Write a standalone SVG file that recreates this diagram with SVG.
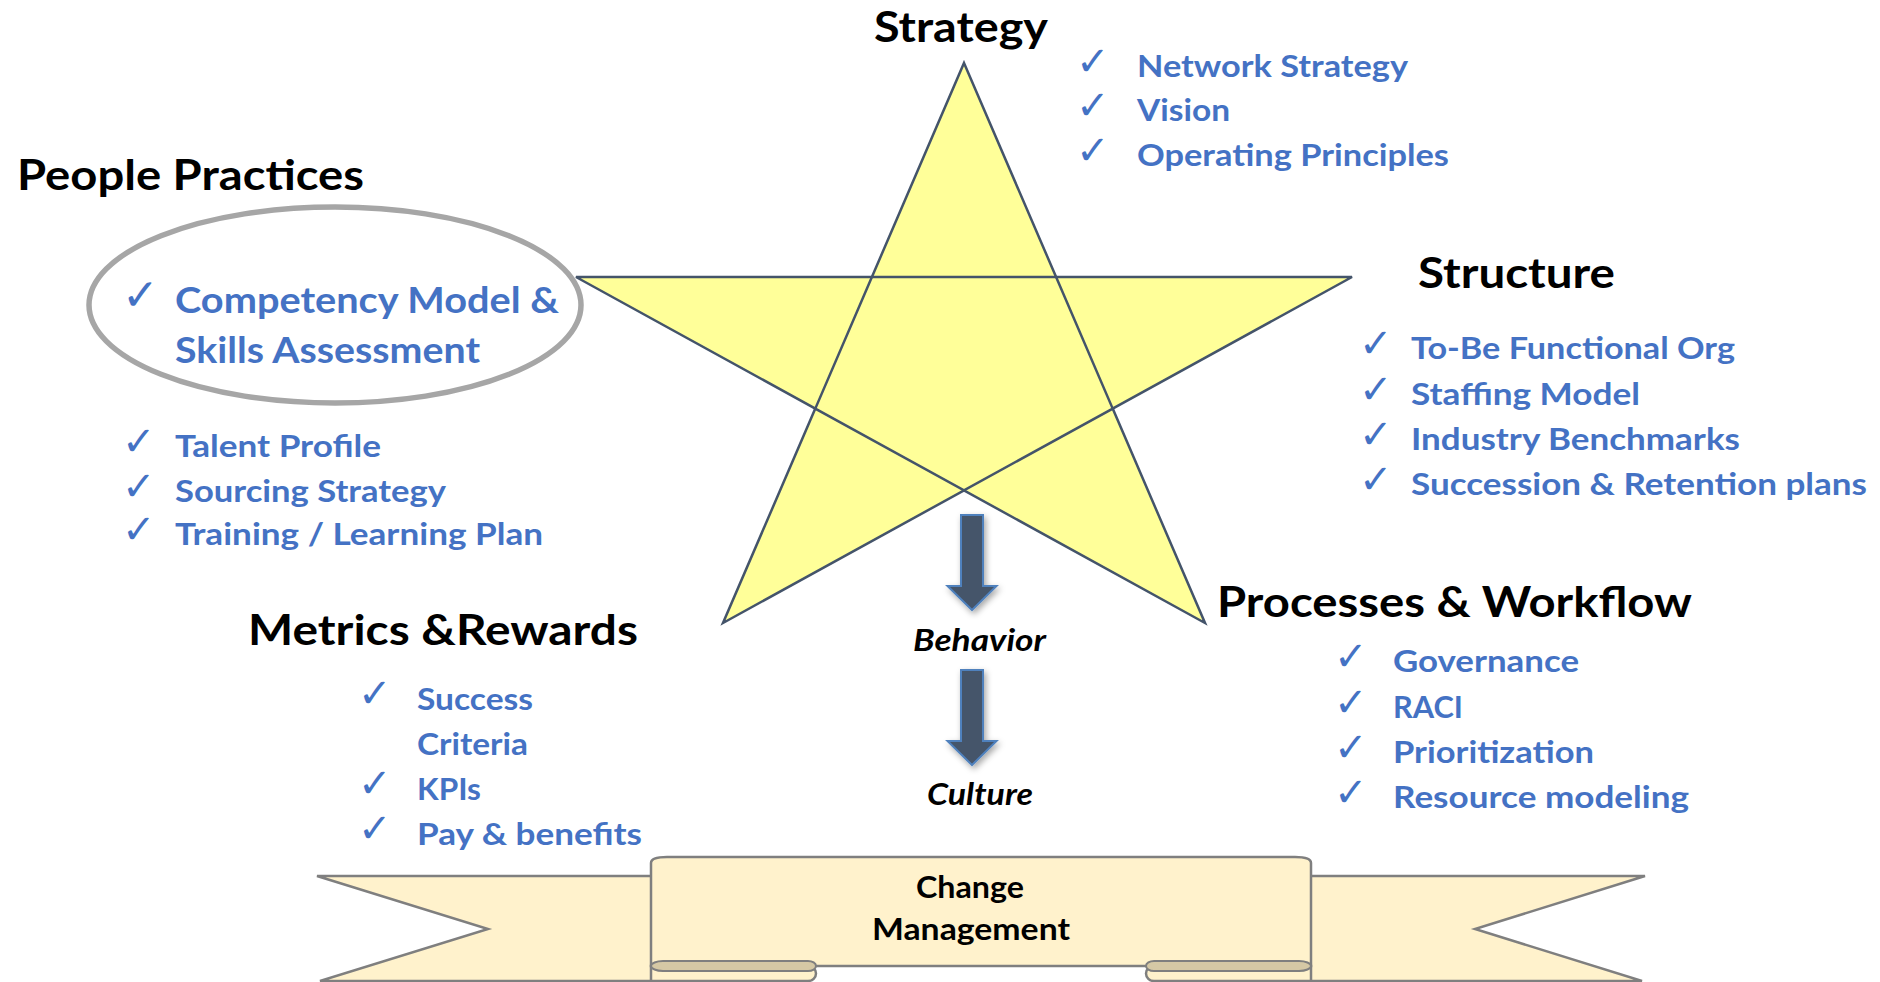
<svg xmlns="http://www.w3.org/2000/svg" width="1880" height="982" viewBox="0 0 1880 982">
<style>
.h{font-family:Lato,"Liberation Sans",sans-serif;font-weight:700;font-size:42px;fill:#000}
.it{font-family:Lato,"Liberation Sans",sans-serif;font-weight:700;font-size:30px;fill:#4472C4}
.big{font-size:37px}
.ck{font-family:"DejaVu Sans",sans-serif;font-weight:700;font-size:40px;fill:#4472C4}
.bi{font-family:Lato,"Liberation Sans",sans-serif;font-weight:700;font-style:italic;font-size:30px;fill:#000;text-anchor:middle}
.rt{font-family:Lato,"Liberation Sans",sans-serif;font-weight:700;font-size:30px;fill:#000;text-anchor:middle}
.rib{fill:#FFF2CC;stroke:#7F7F7F;stroke-width:2.5;stroke-linejoin:miter}
.curl{fill:#D5C8A5;stroke:#7F7F7F;stroke-width:2}
.arrow{fill:#44546A;stroke:#4F81BD;stroke-width:2;filter:url(#sh)}
</style>
<defs>
<filter id="sh" x="-50%" y="-20%" width="200%" height="150%">
<feDropShadow dx="2" dy="3" stdDeviation="3" flood-color="#000" flood-opacity="0.35"/>
</filter>
</defs>
<rect width="1880" height="982" fill="#fff"/>

<g id="star">
<polygon points="964,63 1056.1,277 1352,277 1112.7,408.6 1205,623 964,490.4 723,623 815.3,408.6 576,277 871.9,277" fill="#FFFF99" stroke="#44546A" stroke-width="2.5"/>
<polygon points="871.9,277 1056.1,277 1112.7,408.6 964,490.4 815.3,408.6" fill="none" stroke="#44546A" stroke-width="2.5"/>
</g>

<g id="strategy">
<text class="h" x="874" y="42" textLength="174" lengthAdjust="spacingAndGlyphs">Strategy</text>
<text class="ck" x="1076" y="75">✓</text>
<text class="it" x="1137" y="77" textLength="271" lengthAdjust="spacingAndGlyphs">Network Strategy</text>
<text class="ck" x="1076" y="119">✓</text>
<text class="it" x="1137" y="121" textLength="93" lengthAdjust="spacingAndGlyphs">Vision</text>
<text class="ck" x="1076" y="164">✓</text>
<text class="it" x="1137" y="166" textLength="312" lengthAdjust="spacingAndGlyphs">Operating Principles</text>
</g>

<g id="people-practices">
<text class="h" x="17" y="190" textLength="347" lengthAdjust="spacingAndGlyphs">People Practices</text>
<ellipse cx="335" cy="305" rx="246" ry="98" fill="none" stroke="#A6A6A6" stroke-width="5.5"/>
<text class="ck" x="122" y="310" style="font-size:44px">✓</text>
<text class="it big" x="175" y="313" textLength="384" lengthAdjust="spacingAndGlyphs">Competency Model &amp;</text>
<text class="it big" x="175" y="363" textLength="305" lengthAdjust="spacingAndGlyphs">Skills Assessment</text>
<text class="ck" x="122" y="455">✓</text>
<text class="it" x="175" y="457" textLength="206" lengthAdjust="spacingAndGlyphs">Talent Profile</text>
<text class="ck" x="122" y="500">✓</text>
<text class="it" x="175" y="502" textLength="271" lengthAdjust="spacingAndGlyphs">Sourcing Strategy</text>
<text class="ck" x="122" y="543">✓</text>
<text class="it" x="175" y="545" textLength="368" lengthAdjust="spacingAndGlyphs">Training / Learning Plan</text>
</g>

<g id="structure">
<text class="h" x="1418" y="288" textLength="197" lengthAdjust="spacingAndGlyphs">Structure</text>
<text class="ck" x="1359" y="357">✓</text>
<text class="it" x="1411" y="359" textLength="324" lengthAdjust="spacingAndGlyphs">To-Be Functional Org</text>
<text class="ck" x="1359" y="403">✓</text>
<text class="it" x="1411" y="405" textLength="229" lengthAdjust="spacingAndGlyphs">Staffing Model</text>
<text class="ck" x="1359" y="448">✓</text>
<text class="it" x="1411" y="450" textLength="329" lengthAdjust="spacingAndGlyphs">Industry Benchmarks</text>
<text class="ck" x="1359" y="493">✓</text>
<text class="it" x="1411" y="495" textLength="456" lengthAdjust="spacingAndGlyphs">Succession &amp; Retention plans</text>
</g>

<g id="metrics-rewards">
<text class="h" x="248" y="645" textLength="390" lengthAdjust="spacingAndGlyphs">Metrics &amp;Rewards</text>
<text class="ck" x="358" y="707">✓</text>
<text class="it" x="417" y="710" textLength="116" lengthAdjust="spacingAndGlyphs">Success</text>
<text class="it" x="417" y="755" textLength="111" lengthAdjust="spacingAndGlyphs">Criteria</text>
<text class="ck" x="358" y="797">✓</text>
<text class="it" x="417" y="800" textLength="64" lengthAdjust="spacingAndGlyphs">KPIs</text>
<text class="ck" x="358" y="842">✓</text>
<text class="it" x="417" y="845" textLength="225" lengthAdjust="spacingAndGlyphs">Pay &amp; benefits</text>
</g>

<g id="processes-workflow">
<text class="h" x="1217" y="617" textLength="475" lengthAdjust="spacingAndGlyphs">Processes &amp; Workflow</text>
<text class="ck" x="1334" y="670">✓</text>
<text class="it" x="1393" y="672" textLength="186" lengthAdjust="spacingAndGlyphs">Governance</text>
<text class="ck" x="1334" y="716">✓</text>
<text class="it" x="1393" y="718" textLength="70" lengthAdjust="spacingAndGlyphs">RACI</text>
<text class="ck" x="1334" y="761">✓</text>
<text class="it" x="1393" y="763" textLength="201" lengthAdjust="spacingAndGlyphs">Prioritization</text>
<text class="ck" x="1334" y="806">✓</text>
<text class="it" x="1393" y="808" textLength="296" lengthAdjust="spacingAndGlyphs">Resource modeling</text>
</g>

<g id="connectors">
<path class="arrow" d="M961,515 L983,515 L983,586 L996.5,586 L972,610 L947.5,586 L961,586 Z"/>
<path class="arrow" d="M961,670 L983,670 L983,741 L996.5,741 L972,765 L947.5,741 L961,741 Z"/>
</g>

<g id="behavior">
<text class="bi" x="979.5" y="651" textLength="133" lengthAdjust="spacingAndGlyphs">Behavior</text>
</g>
<g id="culture">
<text class="bi" x="980" y="805" textLength="106" lengthAdjust="spacingAndGlyphs">Culture</text>
</g>

<g id="change-management">
<path class="rib" d="M317,876 L700,876 L700,981 L320,981 L488,929 Z"/>
<path class="rib" d="M1645,876 L1260,876 L1260,981 L1642,981 L1475,929 Z"/>
<path class="rib" d="M651,966 L808,966 A8,7.5 0 0 1 808,981 L651,981 Z"/>
<path class="rib" d="M1311,966 L1154,966 A8,7.5 0 0 0 1154,981 L1311,981 Z"/>
<path class="rib" d="M651,966 L651,863 Q651,857 667,857 L1295,857 Q1311,857 1311,863 L1311,966 Z"/>
<path class="curl" d="M651,966 A12,5 0 0 1 663,961 L808,961 A8,5 0 0 1 808,971 L663,971 A12,5 0 0 1 651,966 Z"/>
<path class="curl" d="M1311,966 A12,5 0 0 0 1299,961 L1154,961 A8,5 0 0 0 1154,971 L1299,971 A12,5 0 0 0 1311,966 Z"/>
<text class="rt" x="970" y="898" textLength="108" lengthAdjust="spacingAndGlyphs">Change</text>
<text class="rt" x="971" y="940" textLength="198" lengthAdjust="spacingAndGlyphs">Management</text>
</g>
</svg>
